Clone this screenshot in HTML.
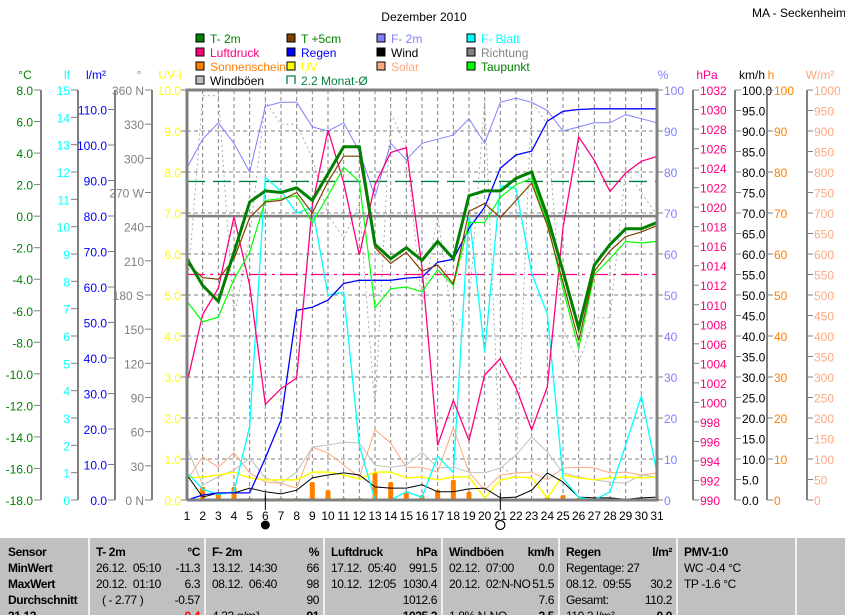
<!DOCTYPE html>
<html><head><meta charset="utf-8">
<style>
body{margin:0;background:#fff;width:845px;height:615px;overflow:hidden;font-family:"Liberation Sans",sans-serif}
#wrap{position:relative;width:845px;height:615px}
svg{position:absolute;left:0;top:0}
text{font-family:"Liberation Sans",sans-serif;font-size:12px}
#tbl{position:absolute;left:0;top:538px;width:845px;height:77px;background:#c0c0c0;font-size:12px;letter-spacing:-0.4px;overflow:hidden}
.col{position:absolute;top:0;height:77px;border-left:2px solid #f0f0f0}
.r{position:absolute;white-space:nowrap}
.b{font-weight:bold}
</style></head><body>
<div id="wrap">
<svg id="chart" width="845" height="538"></svg>
<div id="tbl">
 <div class="r b" style="left:8px;top:7px">Sensor</div>
 <div class="r b" style="left:8px;top:23px">MinWert</div>
 <div class="r b" style="left:8px;top:39px">MaxWert</div>
 <div class="r b" style="left:8px;top:55px">Durchschnitt</div>
 <div class="r b" style="left:8px;top:71px">31.12</div>

 <div class="col" style="left:88px;width:114px">
  <div class="r b" style="left:6px;top:7px">T- 2m</div><div class="r b" style="right:4px;top:7px">°C</div>
  <div class="r" style="left:6px;top:23px">26.12.&nbsp; 05:10</div><div class="r" style="right:4px;top:23px">-11.3</div>
  <div class="r" style="left:6px;top:39px">20.12.&nbsp; 01:10</div><div class="r" style="right:4px;top:39px">6.3</div>
  <div class="r" style="left:12px;top:55px">( - 2.77 )</div><div class="r" style="right:4px;top:55px">-0.57</div>
  <div class="r b" style="right:4px;top:71px;color:#f00">-0.4</div>
 </div>
 <div class="col" style="left:204px;width:117px">
  <div class="r b" style="left:6px;top:7px">F- 2m</div><div class="r b" style="right:4px;top:7px">%</div>
  <div class="r" style="left:6px;top:23px">13.12.&nbsp; 14:30</div><div class="r" style="right:4px;top:23px">66</div>
  <div class="r" style="left:6px;top:39px">08.12.&nbsp; 06:40</div><div class="r" style="right:4px;top:39px">98</div>
  <div class="r" style="right:4px;top:55px">90</div>
  <div class="r" style="left:6px;top:71px">4.33 g/m³</div><div class="r b" style="right:4px;top:71px">91</div>
 </div>
 <div class="col" style="left:323px;width:116px">
  <div class="r b" style="left:6px;top:7px">Luftdruck</div><div class="r b" style="right:4px;top:7px">hPa</div>
  <div class="r" style="left:6px;top:23px">17.12.&nbsp; 05:40</div><div class="r" style="right:4px;top:23px">991.5</div>
  <div class="r" style="left:6px;top:39px">10.12.&nbsp; 12:05</div><div class="r" style="right:4px;top:39px">1030.4</div>
  <div class="r" style="right:4px;top:55px">1012.6</div>
  <div class="r b" style="right:4px;top:71px">1025.2</div>
 </div>
 <div class="col" style="left:441px;width:115px">
  <div class="r b" style="left:6px;top:7px">Windböen</div><div class="r b" style="right:4px;top:7px">km/h</div>
  <div class="r" style="left:6px;top:23px">02.12.&nbsp; 07:00</div><div class="r" style="right:4px;top:23px">0.0</div>
  <div class="r" style="left:6px;top:39px">20.12.&nbsp; 02:N-NO</div><div class="r" style="right:4px;top:39px">51.5</div>
  <div class="r" style="right:4px;top:55px">7.6</div>
  <div class="r" style="left:6px;top:71px">1.8% N-NO</div><div class="r b" style="right:4px;top:71px">2.5</div>
 </div>
 <div class="col" style="left:558px;width:116px">
  <div class="r b" style="left:6px;top:7px">Regen</div><div class="r b" style="right:4px;top:7px">l/m²</div>
  <div class="r" style="left:6px;top:23px">Regentage: 27</div>
  <div class="r" style="left:6px;top:39px">08.12.&nbsp; 09:55</div><div class="r" style="right:4px;top:39px">30.2</div>
  <div class="r" style="left:6px;top:55px">Gesamt:</div><div class="r" style="right:4px;top:55px">110.2</div>
  <div class="r" style="left:6px;top:71px">110.2 l/m²</div><div class="r b" style="right:4px;top:71px">0.0</div>
 </div>
 <div class="col" style="left:676px;width:117px">
  <div class="r b" style="left:6px;top:7px">PMV-1:0</div>
  <div class="r" style="left:6px;top:23px">WC -0.4 °C</div>
  <div class="r" style="left:6px;top:39px">TP -1.6 °C</div>
 </div>
 <div class="col" style="left:795px;width:50px"></div>
</div>
</div>
<script>
const days=[1,2,3,4,5,6,7,8,9,10,11,12,13,14,15,16,17,18,19,20,21,22,23,24,25,26,27,28,29,30,31];
const t2m=[-2.7,-4.4,-5.4,-2.3,0.9,1.6,1.5,1.8,1.0,2.7,4.4,4.4,-1.8,-2.7,-2.0,-2.8,-1.6,-2.7,1.3,1.6,1.6,2.4,2.8,0.0,-3.5,-7.1,-3.1,-1.8,-0.8,-0.8,-0.4];
const t5cm=[-3.0,-3.9,-4.0,-2.7,-0.1,0.9,1.0,1.5,0.2,2.2,3.8,3.8,-2.0,-3.0,-2.3,-3.5,-3.1,-4.3,0.3,0.8,-0.1,1.0,2.1,-0.6,-4.2,-7.9,-3.5,-2.2,-1.3,-1.0,-0.6];
const taupunkt=[-5.4,-6.7,-6.4,-4.0,-2.3,1.0,1.1,1.3,-0.4,1.3,3.1,2.2,-5.8,-4.6,-4.5,-4.8,-3.4,-4.4,-0.4,-0.4,1.2,2.0,2.4,-0.4,-4.6,-8.4,-3.7,-2.7,-1.6,-1.7,-1.6];
const f2m=[81,88,92,87,80,96,97,97,91,90,92,85,74,87,83,87,88,89,93,87,97,98,97,95,90,91,92,92,94,93,92];
const fblatt=[1.0,0.4,0.2,0.3,2.7,11.8,11.3,10.5,10.7,7.5,7.6,2.0,0,0,0.3,0.1,1.6,1.0,10.5,5.4,11.5,11.4,8.3,6.8,0.8,0.1,0,0.3,2.0,3.8,1.0];
const luftdruck=[1002.0,1009.0,1011.7,1019.0,1012.0,999.8,1001.4,1002.5,1020.2,1027.9,1022.5,1015.1,1022.3,1025.6,1026.1,1013.8,995.6,1000.2,996.1,1002.8,1004.5,1001.5,997.2,1001.6,1017.9,1027.2,1024.8,1021.6,1023.5,1024.7,1025.2];
const regen=[0,1.4,2.0,2.0,2.0,11.8,22.5,53.4,54.3,56.3,61.0,61.9,61.9,61.9,62.5,62.8,67.0,67.8,76.5,82.5,93.5,97.2,98.3,106.7,109.5,110.0,110.2,110.2,110.2,110.2,110.2];
const wind=[6.1,0.7,1.7,1.7,2.9,2.0,1.5,2.4,5.4,6.1,6.6,6.1,3.2,2.9,2.9,3.7,2.0,2.0,2.7,2.9,0.5,0.7,2.4,6.6,4.4,0.7,0.5,0.5,0.2,0.5,0.7];
const windboeen=[12.7,3.7,5.6,7.3,10.2,5.4,4.1,6.8,12.9,13.4,14.1,13.9,8.5,8.0,8.5,11.7,7.8,8.0,6.8,6.6,7.8,11.0,15.4,11.7,6.6,5.6,4.9,4.4,4.1,6.1,5.6];
const richtung=[180,355,355,160,230,350,330,330,300,250,230,260,80,340,310,170,250,150,170,350,30,20,350,330,150,120,160,160,290,270,250];
const uv=[0.54,0.56,0.61,0.68,0.54,0.49,0.49,0.49,0.68,0.68,0.61,0.51,0.68,0.68,0.54,0.56,0.49,0.56,0.56,0.05,0.49,0.56,0.54,0.05,0.61,0.54,0.49,0.54,0.56,0.54,0.56];
const solar=[49,105,80,115,66,44,41,29,129,115,85,56,171,139,80,80,68,176,68,24,61,66,68,49,78,80,78,66,68,61,66];
const sonne=[0,3.2,1.7,3.2,0.5,0.5,0.5,0.5,4.4,2.4,0.5,0.5,6.8,4.4,1.7,1.2,2.4,4.9,2.0,0,0,0.3,0,0.7,1.2,0.5,0.3,0.3,0.3,0.3,0.3];
const monatAvg=2.2;
const luftAvg=1013.1;
const tickC=["8.0","6.0","4.0","2.0","0.0","-2.0","-4.0","-6.0","-8.0","-10.0","-12.0","-14.0","-16.0","-18.0"];
const tickLf=["15","14","13","12","11","10","9","8","7","6","5","4","3","2","1","0"];
const tickRain=["110.0","100.0","90.0","80.0","70.0","60.0","50.0","40.0","30.0","20.0","10.0","0.0"];
const tickDir=["360 N","330","300","270 W","240","210","180 S","150","120","90","60","30","0 N"];
const tickUV=["10.0","9.0","8.0","7.0","6.0","5.0","4.0","3.0","2.0","1.0","0.0"];
const tickPct=["100","90","80","70","60","50","40","30","20","10","0"];
const tickHpa=["1032","1030","1028","1026","1024","1022","1020","1018","1016","1014","1012","1010","1008","1006","1004","1002","1000","998","996","994","992","990"];
const tickKmh=["100.0","95.0","90.0","85.0","80.0","75.0","70.0","65.0","60.0","55.0","50.0","45.0","40.0","35.0","30.0","25.0","20.0","15.0","10.0","5.0","0.0"];
const tickH=["100","90","80","70","60","50","40","30","20","10","0"];
const tickW=["1000","950","900","850","800","750","700","650","600","550","500","450","400","350","300","250","200","150","100","50","0"];

const svg=document.getElementById('chart');
const NS='http://www.w3.org/2000/svg';
const L=187,R=657,T=90,B=500;
function xd(d){return L+(d-1)*(R-L)/30;}
function lin(min,max){return v=>B-(v-min)/(max-min)*(B-T);}
const yC=lin(-18,8),yLf=lin(0,15),yRain=lin(0,115.5),yDir=lin(0,360),yUV=lin(0,10),yPct=lin(0,100),yHpa=lin(990,1032),yKmh=lin(0,100),yH=lin(0,100),yW=lin(0,1000);
function mk(tag,attrs,parent){const e=document.createElementNS(NS,tag);for(const k in attrs)e.setAttribute(k,attrs[k]);(parent||svg).appendChild(e);return e;}
function txt(x,y,s,fill,anchor,extra){const e=mk('text',Object.assign({x:x,y:y,fill:fill,'text-anchor':anchor||'start'},extra||{}));e.textContent=s;return e;}

let e=txt(424,21,'Dezember 2010','#000','middle',{'font-size':'15'});

e=txt(752,17,'MA - Seckenheim','#000','start',{'font-size':'11'});


const legend=[["T- 2m","#008000","#008000"],["T +5cm","#804000","#008000"],["F- 2m","#8080ff","#8080ff"],["F- Blatt","#00ffff","#00ffff"],
["Luftdruck","#ff0080","#ff0080"],["Regen","#0000ff","#0000ff"],["Wind","#000000","#000000"],["Richtung","#808080","#808080"],
["Sonnenschein","#ff8000","#ff8000"],["UV","#ffff00","#ffff00"],["Solar","#ffa880","#ffa880"],["Taupunkt","#00ff00","#008000"],
["Windböen","#c0c0c0","#000000"],["2.2 Monat-Ø","none","#008040"]];
const lgX=[196,287,377,467],lgY=[38,52,66,80];
legend.forEach((l,i)=>{const x=lgX[i%4],y=lgY[Math.floor(i/4)];
 const g=mk('g',{});
 if(l[1]==='none'){mk('path',{d:`M${x} ${y+4}V${y-4}H${x+8}V${y+4}`,stroke:'#008040',fill:'none','stroke-width':1.3},g);}
 else mk('rect',{x:x,y:y-4,width:8,height:8,fill:l[1],stroke:'#000','stroke-width':1},g);
 const t=mk('text',{x:x+14,y:y+5,fill:l[2]},g);t.textContent=l[0];
});

function axis(name,lineX,ticks,yfn,vals,color,side,header,headerX,lineColor){
 const g=mk('g',{});
 if(lineX!==null) mk('line',{x1:lineX,x2:lineX,y1:T,y2:B,stroke:lineColor||'#808080','stroke-width':2},g);
 ticks.forEach((s,i)=>{const y=yfn(vals[i]);
  if(side==='left'){mk('line',{x1:lineX-7,x2:lineX,y1:y,y2:y,stroke:'#808080'},g);const t=mk('text',{x:lineX-8,y:y+5,fill:color,'text-anchor':'end'},g);t.textContent=s;}
  else{mk('line',{x1:lineX,x2:lineX+6,y1:y,y2:y,stroke:'#808080'},g);const t=mk('text',{x:lineX+7,y:y+5,fill:color},g);t.textContent=s;}
 });
 const h=mk('text',{x:headerX,y:79,fill:color,'text-anchor':'middle'},g);h.textContent=header;
}
axis('axis-temperature',41,tickC,yC,tickC.map(Number),'#008000','left','°C',25);
axis('axis-leaf-wetness',78,tickLf,yLf,tickLf.map(Number),'#00ffff','left','lf',67);
axis('axis-rain',115,tickRain,yRain,tickRain.map(Number),'#0000ff','left','l/m²',96);
axis('axis-direction',152,tickDir,yDir,tickDir.map((s,i)=>360-30*i),'#808080','left','°',139);
axis('axis-uv',null,[],yUV,[],'#ffff00','left','UV-I',170);
tickUV.forEach((s,i)=>{const y=yUV(10-i);mk('line',{x1:181,x2:187,y1:y,y2:y,stroke:'#808080'});const t=txt(181,y+5,s,'#ffff00','end');});
axis('axis-humidity',null,[],yPct,[],'#8080ff','right','%',663);
tickPct.forEach((s,i)=>{const y=yPct(100-10*i);mk('line',{x1:657,x2:663,y1:y,y2:y,stroke:'#808080'});const t=txt(664,y+5,s,'#8080ff');});
axis('axis-pressure',693,tickHpa,yHpa,tickHpa.map(Number),'#ff0080','right','hPa',707);
axis('axis-wind',735,tickKmh,yKmh,tickKmh.map(Number),'#000000','right','km/h',752);
axis('axis-sunshine',767,tickH,yH,tickH.map(Number),'#ff8000','right','h',771);
axis('axis-solar',807,tickW,yW,tickW.map(Number),'#ffa880','right','W/m²',820);

const grid=mk('g',{});
for(let d=2;d<=30;d++)mk('line',{x1:xd(d),x2:xd(d),y1:T,y2:B,stroke:'#808080','stroke-dasharray':'4,3'},grid);
for(let i=1;i<10;i++){const y=yPct(i*10);mk('line',{x1:L,x2:R,y1:y,y2:y,stroke:'#808080','stroke-dasharray':'4,3'},grid);}
mk('line',{x1:L,x2:R,y1:yC(0),y2:yC(0),stroke:'#808080','stroke-width':2.5},grid);

function series(name,arr,yfn,color,w,dash){
 const p=mk('polyline',{points:arr.map((v,i)=>xd(days[i])+','+yfn(v).toFixed(1)).join(' '),fill:'none',stroke:color,'stroke-width':w,'stroke-linejoin':'miter'});
 if(dash)p.setAttribute('stroke-dasharray',dash);
 
}
series('richtung-line',richtung,yDir,'#999999',0.8,'2,3');
sonne.forEach((v,i)=>{if(v<=0)return;const y=yH(v);
 const r=mk('rect',{x:xd(days[i])-2.5,y:y,width:5,height:B-y,fill:'#ff8000',rx:1.5});
 });
e=mk('line',{x1:L,x2:R,y1:yC(monatAvg),y2:yC(monatAvg),stroke:'#008040','stroke-width':1.3,'stroke-dasharray':'18,8'});

e=mk('line',{x1:L,x2:R,y1:yHpa(luftAvg),y2:yHpa(luftAvg),stroke:'#ff0080','stroke-width':1.3,'stroke-dasharray':'18,5,3,5'});

series('solar-line',solar,yW,'#ffa880',1);
series('windboeen-line',windboeen,yKmh,'#c0c0c0',1);
series('uv-line',uv,yUV,'#ffff00',1.5);
series('wind-line',wind,yKmh,'#000000',1);
series('fblatt-line',fblatt,yLf,'#00ffff',1.3);
series('f2m-line',f2m,yPct,'#8080ff',1);
series('regen-line',regen,yRain,'#0000ff',1.3);
series('luftdruck-line',luftdruck,yHpa,'#ff0080',1.3);
series('taupunkt-line',taupunkt,yC,'#00ff00',1.2);
series('t5cm-line',t5cm,yC,'#804000',1.2);
series('t2m-line',t2m,yC,'#008000',3);

e=mk('path',{d:`M${L} ${B}V${T}H${R}V${B}H${L}`,fill:'none',stroke:'#808080','stroke-width':3});


days.forEach(d=>{const t=txt(xd(d),520,String(d),'#000','middle');});
mk('line',{x1:xd(6),x2:xd(6),y1:493,y2:510,stroke:'#000'});
mk('line',{x1:xd(21),x2:xd(21),y1:493,y2:510,stroke:'#000'});
e=mk('circle',{cx:xd(6),cy:525,r:4.5,fill:'#000'});
e=mk('circle',{cx:xd(21),cy:525,r:4.5,fill:'#fff',stroke:'#000','stroke-width':1.2});
</script>
</body></html>
